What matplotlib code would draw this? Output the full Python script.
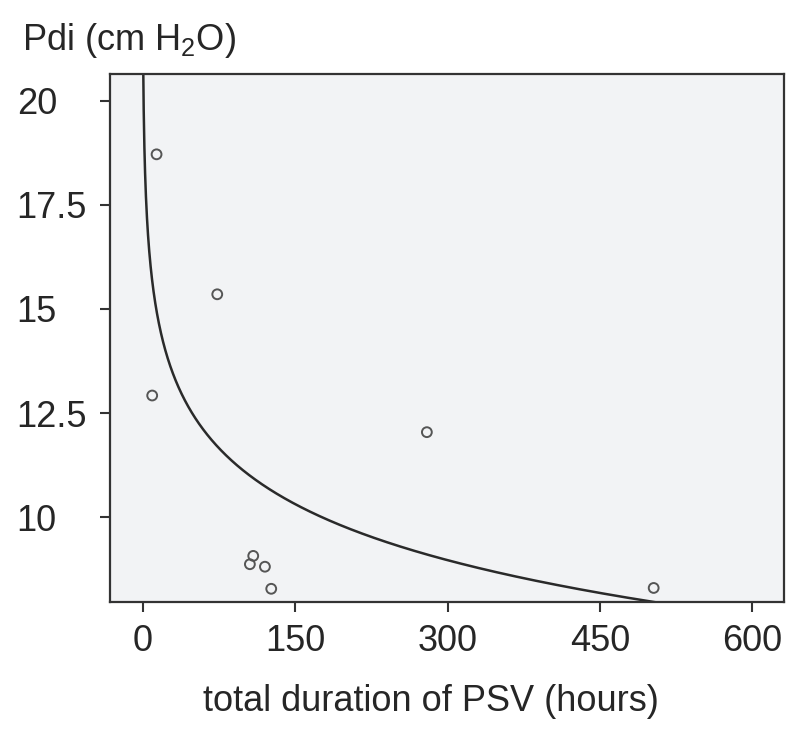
import matplotlib
matplotlib.use("Agg")
import matplotlib.pyplot as plt
import numpy as np

plt.rcParams['font.family'] = ['Liberation Sans', 'DejaVu Sans']
plt.rcParams['mathtext.fontset'] = 'custom'
plt.rcParams['mathtext.rm'] = 'Liberation Sans'
plt.rcParams['mathtext.default'] = 'regular'

# observed points: total duration of PSV (hours) vs Pdi (cm H2O)
hours = [13.8, 73.5, 9.5, 108.9, 105.6, 120.4, 126.6, 279.7, 502.8]
pdi = [18.71, 15.35, 12.92, 9.07, 8.87, 8.81, 8.28, 12.04, 8.30]

# fitted logarithmic curve  pdi = a - b*ln(hours), coefficients
fit_a = 20.05
fit_b = 1.943

xticks = [0, 150, 300, 450, 600]
yticks = [10, 12.5, 15, 17.5, 20]
ytick_labels = ['10', '12.5', '15', '17.5', '20']

dark = '#333333'
txt = '#262626'

fig = plt.figure(figsize=(8, 7.32), dpi=100)
ax = fig.add_axes([0.1375, 0.178, 0.8425, 0.721])
ax.set_facecolor('#f2f3f5')

xs = np.linspace(0.3, 510, 3000)
ax.plot(xs, fit_a - fit_b * np.log(xs), color='#2a2a2a', lw=1.8, zorder=2)
ax.scatter(hours, pdi, s=50, facecolors='none', edgecolors='#555555',
           linewidths=1.4, zorder=3)

ax.set_xlim(-32, 631)
ax.set_ylim(7.97, 20.64)
ax.set_xticks(xticks)
ax.set_yticks(yticks)
ax.set_yticklabels(ytick_labels, ha='left')

for s in ax.spines.values():
    s.set_color(dark)
    s.set_linewidth(1.6)
ax.tick_params(direction='out', length=7.2, width=1.5, color=dark,
               labelsize=26, labelcolor=txt)
ax.tick_params(axis='x', pad=9)
ax.tick_params(axis='y', pad=60)

ax.set_xlabel('total duration of PSV (hours)', fontsize=26, color=txt)
ax.xaxis.set_label_coords(0.476, -0.156)
fig.text(0.0275, 0.945, 'Pdi (cm H$_2$O)', fontsize=26, color=txt,
         ha='left', va='center')

fig.savefig('out.png', dpi=100, facecolor='white')
